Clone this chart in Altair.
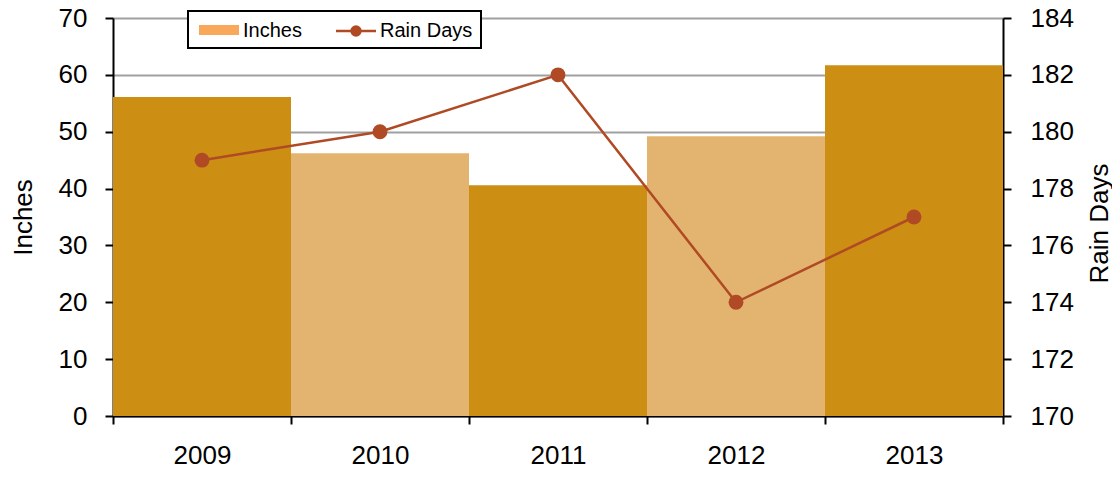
import altair as alt
import pandas as pd

years = ["2009", "2010", "2011", "2012", "2013"]
inches = [56.1, 46.2, 40.6, 49.2, 61.7]
rain_days = [179, 180, 182, 174, 177]
shade = ["dark", "light", "dark", "light", "dark"]
legend_labels = ["Inches", "Rain Days"]

df = pd.DataFrame({"year": years, "inches": inches, "days": rain_days, "shade": shade})
one = pd.DataFrame({"k": [0]})

FONT = "Liberation Sans"
DARK = "#CD8E14"
LIGHT = "#E3B46F"
LINE = "#B04A25"

x = alt.X("year:O", title=None,
          scale=alt.Scale(paddingInner=0, paddingOuter=0),
          axis=alt.Axis(labelAngle=0, tickBand="extent", labelFontSize=26, labelFont=FONT,
                        labelColor="black", domainColor="black", domainWidth=2,
                        tickColor="black", tickWidth=2, tickSize=8, labelPadding=18))

bars = alt.Chart(df).mark_bar(width={"band": 1}).encode(
    x=x,
    y=alt.Y("inches:Q", title="Inches",
            scale=alt.Scale(domain=[0, 70], nice=False),
            axis=alt.Axis(values=list(range(0, 71, 10)), grid=True, gridColor="#A0A0A0",
                          gridWidth=2, labelFontSize=26, labelFont=FONT, labelColor="black",
                          titleFontSize=26, titleFont=FONT, titleFontWeight="normal",
                          titleColor="black", titlePadding=22, domainColor="black",
                          domainWidth=2, tickColor="black", tickWidth=2, tickSize=8,
                          labelPadding=18)),
    color=alt.Color("shade:N", scale=alt.Scale(domain=["dark", "light"], range=[DARK, LIGHT]),
                    legend=None),
)

y2 = alt.Y("days:Q", title="Rain Days",
           scale=alt.Scale(domain=[170, 184], nice=False, zero=False),
           axis=alt.Axis(orient="right", values=list(range(170, 185, 2)), grid=False,
                         labelFontSize=26, labelFont=FONT, labelColor="black",
                         titleFontSize=26, titleFont=FONT, titleFontWeight="normal",
                         titleColor="black", titleAngle=270, titleX=96, titleY=205,
                         titleBaseline="middle", titleAlign="center",
                         domainColor="black",
                         domainWidth=2, tickColor="black", tickWidth=2, tickSize=8,
                         labelPadding=19))

line = alt.Chart(df).mark_line(color=LINE, strokeWidth=2.5).encode(x=x, y=y2)
points = alt.Chart(df).mark_point(filled=True, color=LINE, size=220, opacity=1).encode(x=x, y=y2)

# legend (decoration)
leg_box = alt.Chart(one).mark_rect(fill="white", stroke="black", strokeWidth=2).encode(
    x=alt.value(75), x2=alt.value(368), y=alt.value(-7), y2=alt.value(30))
leg_sw = alt.Chart(one).mark_rect(fill="#F9A85A").encode(
    x=alt.value(86), x2=alt.value(126), y=alt.value(7), y2=alt.value(17))
leg_t1 = alt.Chart(one).mark_text(text=legend_labels[0], align="left", baseline="middle",
                                  fontSize=20, font=FONT, color="black").encode(
    x=alt.value(130), y=alt.value(13))
leg_ln = alt.Chart(one).mark_rule(color=LINE, strokeWidth=2.5).encode(
    x=alt.value(223), x2=alt.value(263), y=alt.value(13))
leg_pt = alt.Chart(one).mark_point(filled=True, color=LINE, size=130, opacity=1).encode(
    x=alt.value(243), y=alt.value(13))
leg_t2 = alt.Chart(one).mark_text(text=legend_labels[1], align="left", baseline="middle",
                                  fontSize=20, font=FONT, color="black").encode(
    x=alt.value(267), y=alt.value(13))

legend = alt.layer(leg_box, leg_sw, leg_t1, leg_ln, leg_pt, leg_t2)

chart = alt.layer(bars, alt.layer(line, points), legend).resolve_scale(y="independent").properties(
    width=890, height=398,
    autosize=alt.AutoSizeParams(type="none"),
    padding={"left": 105, "top": 10, "right": 109, "bottom": 53},
).configure_view(stroke=None)

chart.save("out.html", embed_options={"renderer": "svg", "actions": False})
